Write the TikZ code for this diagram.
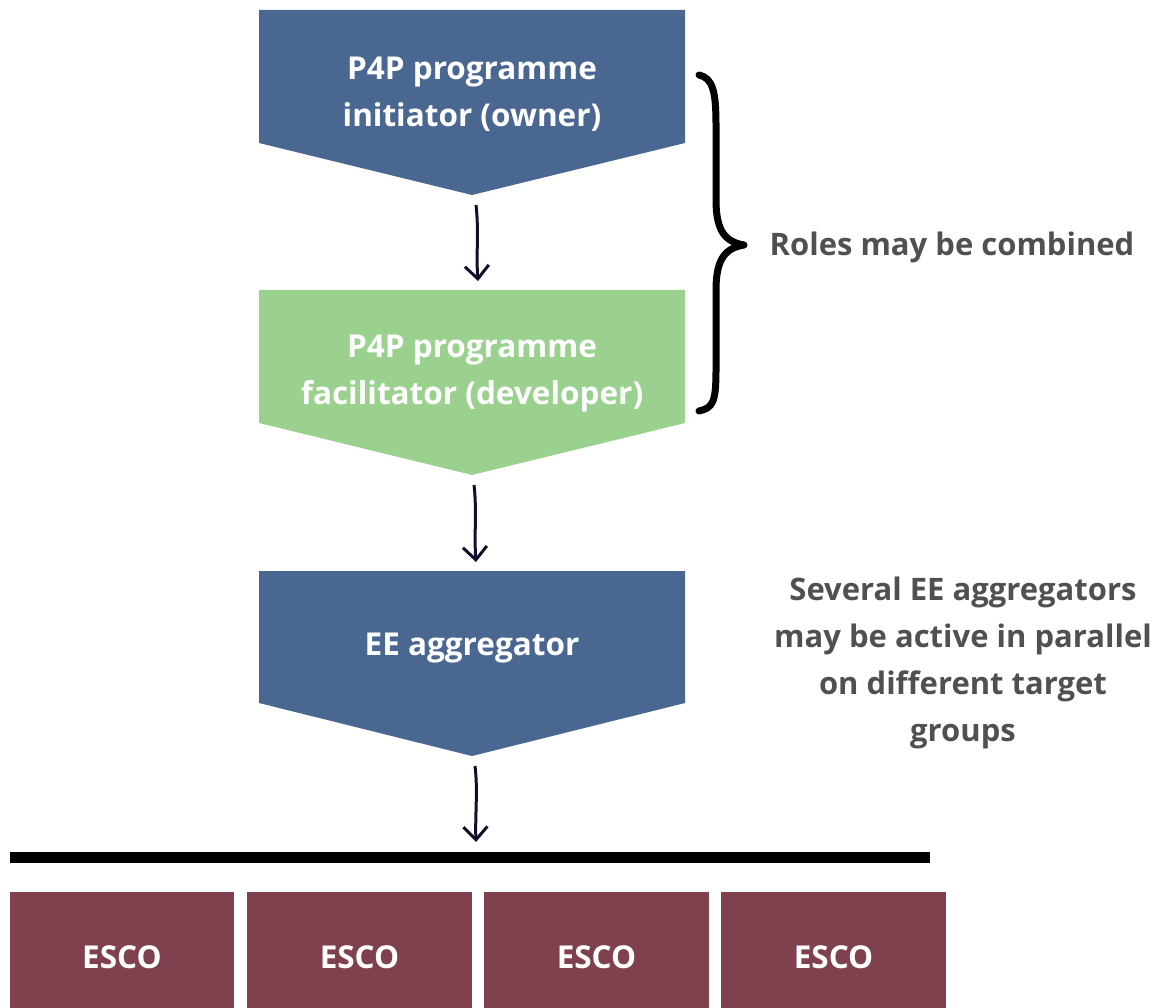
\documentclass[tikz,border=0pt]{standalone}
\usepackage{fontspec}
\setmainfont{Open Sans}
\usetikzlibrary{arrows.meta}
\definecolor{boxblue}{HTML}{4A6792}
\definecolor{boxgreen}{HTML}{9BD18F}
\definecolor{boxmaroon}{HTML}{7F414E}
\definecolor{labelgray}{HTML}{505050}
\definecolor{arrowink}{HTML}{10102A}
\begin{document}
\begin{tikzpicture}[x=1pt,y=-1pt,
  boxtext/.style={text=white,font=\bfseries\fontsize{31.5}{47}\selectfont,align=center,inner sep=0},
  sidetext/.style={text=labelgray,font=\bfseries\fontsize{31}{47}\selectfont,align=center,inner sep=0},
  flowarrow/.style={draw=arrowink,line width=3pt,-{Straight Barb[length=13pt,width=24pt,line width=3pt]}}
]
\useasboundingbox (0,0) rectangle (1160,1008);
% chevrons
\fill[boxblue] (259,10) -- (685,10) -- (685,143) -- (472,195) -- (259,143) -- cycle;
\fill[boxgreen] (259,290) -- (685,290) -- (685,423) -- (472,475) -- (259,423) -- cycle;
\fill[boxblue] (259,571) -- (685,571) -- (685,703) -- (472,756) -- (259,703) -- cycle;
\node[boxtext] (owner) at (472,94) {P4P programme\\initiator (owner)};
\node[boxtext] (facil) at (472,374) {P4P programme\\facilitator (developer)};
\node[boxtext] (aggr) at (472,648) {EE aggregator};
\coordinate (t1) at (476,205);
\coordinate (h1) at (478,281);
\coordinate (t2) at (474,485);
\coordinate (h2) at (476,562);
\coordinate (t3) at (475,766);
\coordinate (h3) at (476,842);
\draw[flowarrow] (t1) .. controls (479,230) and (476,255) .. (h1);
\draw[flowarrow] (t2) .. controls (477,510) and (474,535) .. (h2);
\draw[flowarrow] (t3) .. controls (478,790) and (475,815) .. (h3);
% bar
\fill[black] (10,852) rectangle (930,863);
% ESCO boxes
\foreach \i/\a/\b in {1/10/234,2/247/472,3/484/709,4/721/946}{
  \fill[boxmaroon] (\a,892) rectangle (\b,1008);
  \node[boxtext] (esco\i) at ({(\a+\b)/2},957) {ESCO};
}
% brace
\draw[black,line width=7pt,line cap=round,line join=round]
  (699,75) .. controls (713,78) and (716,92) .. (716,125) -- (716,200)
  .. controls (716,232) and (726,242) .. (744,245)
  .. controls (726,248) and (716,258) .. (716,290) -- (716,370)
  .. controls (716,402) and (713,408) .. (699,411);
\node[sidetext] (roles) at (952,247) {Roles may be combined};
\node[sidetext] (several) at (963,663) {Several EE aggregators\\may be active in parallel\\on different target\\groups};
\end{tikzpicture}
\end{document}
